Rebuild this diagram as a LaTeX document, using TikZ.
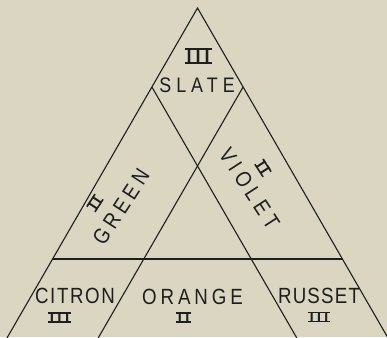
\documentclass[tikz,border=0pt]{standalone}
\usepackage{fontspec}
\usepackage{graphicx}
\setmainfont{Liberation Sans}
\newfontfamily\labfont[FakeStretch=0.85]{Liberation Sans}
\newfontfamily\numfont{Liberation Serif}
\definecolor{paper}{HTML}{DAD6C1}
\definecolor{ink}{HTML}{1E1E1E}
\newcommand\rnraw[1]{\setbox0\hbox{\fontsize{20}{20}\selectfont\numfont #1}\hbox{\rlap{\rule{\wd0}{1.8pt}}\rlap{\rule[\dimexpr\ht0-1.8pt\relax]{\wd0}{1.8pt}}\box0}}
\newcommand\rnum[3]{\resizebox{#2}{#3}{\rnraw{#1}}}
\tikzset{
  lab/.style={inner sep=0pt,text=ink,font=\labfont\fontsize{22}{22}\selectfont\addfontfeature{LetterSpace=#1}},
  num/.style={inner sep=0pt,text=ink},
  edge/.style={draw=ink,line width=1.1pt}
}
\begin{document}
\begin{tikzpicture}[x=1pt,y=-1pt]
\fill[paper] (0,0) rectangle (387,337);
\useasboundingbox (0,0) rectangle (387,337);
\clip (0,0) rectangle (387,337);
% outer triangle
\coordinate (apex) at (197.5,8);
\coordinate (bl) at (1.2,348);
\coordinate (br) at (393.8,348);
% inner line ends
\coordinate (p1) at (151.9,87);
\coordinate (p2) at (243.1,87);
\coordinate (q1) at (302.6,348);
\coordinate (q2) at (92.4,348);
\coordinate (h1) at (52.6,259);
\coordinate (h2) at (342.4,259);
\draw[edge,line join=miter] (bl) -- (apex) -- (br);
\draw[edge] (p1) -- (q1);
\draw[edge] (p2) -- (q2);
\draw[edge] (h1) -- (h2);
% labels
\node[num] (n1) at (198,56) {\rnum{III}{27pt}{16pt}};
\node[lab=24,font=\labfont\fontsize{21}{21}\selectfont\addfontfeature{LetterSpace=24}] (slate) at (197,85.5) {SLATE};
\node[lab=21,rotate=57] (green) at (121,207) {GREEN};
\node[num,rotate=57] (n2) at (95,203) {\rnum{II}{15pt}{11pt}};
\node[lab=23,rotate=-57] (violet) at (249.5,188.5) {VIOLET};
\node[num,rotate=-57] (n3) at (263,168) {\rnum{II}{15pt}{11pt}};
\node[lab=7.5] (citron) at (75,296) {CITRON};
\node[lab=18] (orange) at (192.5,297) {ORANGE};
\node[lab=5.5] (russet) at (319,296) {RUSSET};
\node[num] (n4) at (59.5,317.5) {\rnum{III}{23pt}{11pt}};
\node[num] (n5) at (183.5,317.5) {\rnum{II}{15pt}{11pt}};
\node[num] (n6) at (319,317) {\rnum{III}{22pt}{10pt}};
\end{tikzpicture}
\end{document}
